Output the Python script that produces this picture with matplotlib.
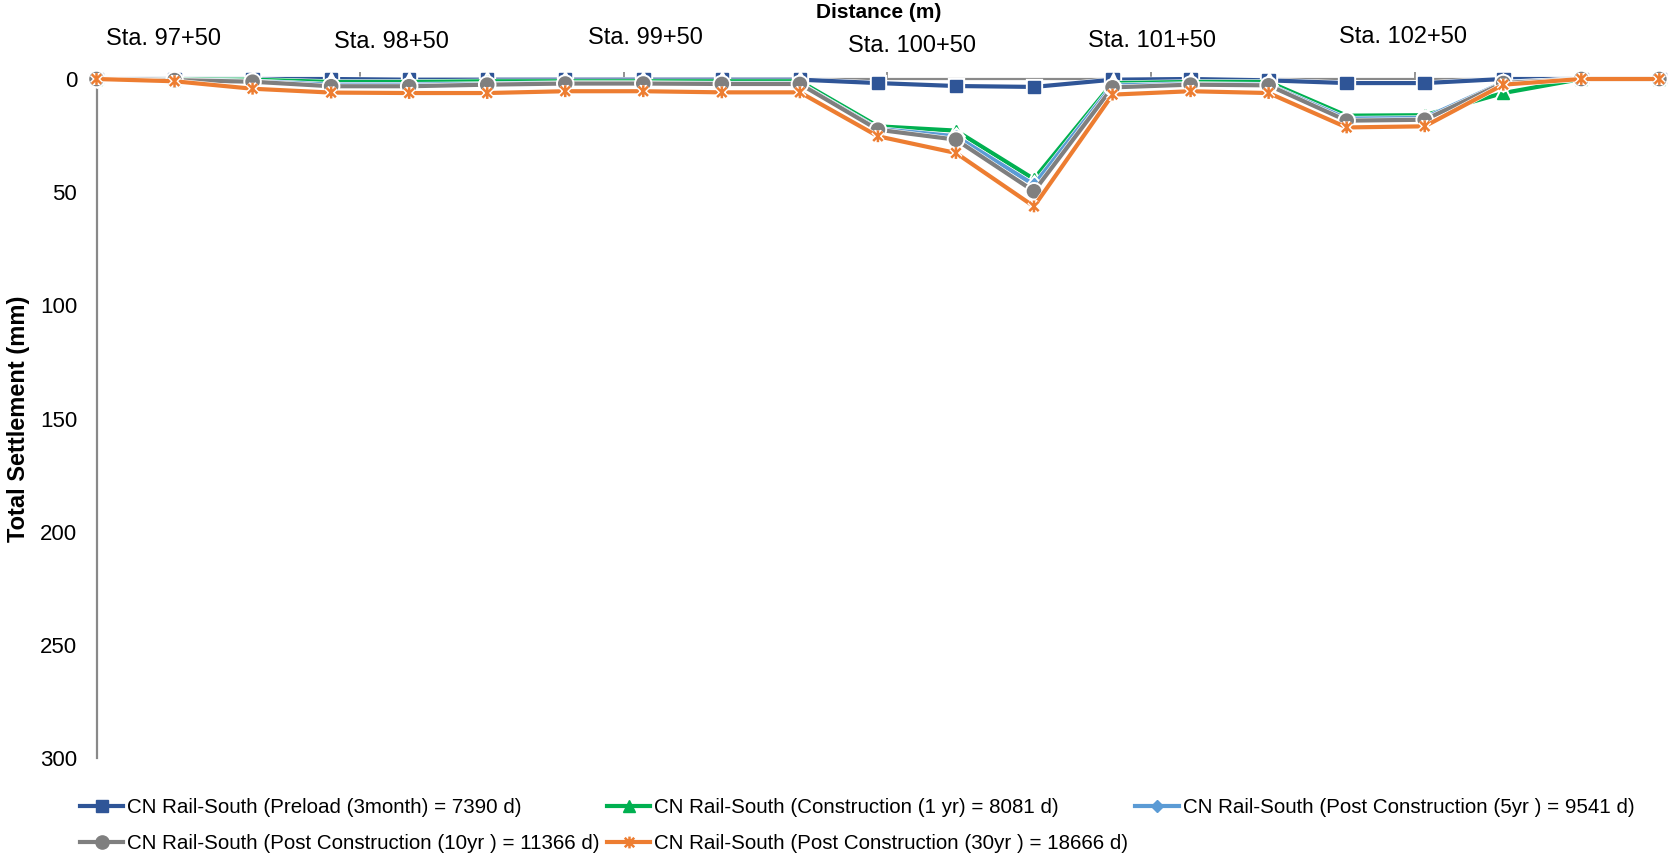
import matplotlib
matplotlib.use("Agg")
import matplotlib.pyplot as plt
from matplotlib import font_manager
from matplotlib.path import Path
import matplotlib.patheffects as pe

# ---- data -------------------------------------------------------------
distance_m = [0.0, 14.8, 29.6, 44.5, 59.3, 74.1, 88.9, 103.7, 118.6, 133.4,
              148.2, 163.0, 177.8, 192.7, 207.5, 222.3, 237.1, 251.9, 266.8,
              281.6, 296.4]

preload_3mo = [0, 0, 0, 0, 0.3, 0.3, 0.3, 0.3, 0.3, 0.3,
               1.8, 3.1, 3.5, 0.3, 0, 0.6, 1.8, 1.8, 0, 0, 0]
construction_1yr = [0, 0.3, 0.3, 1.3, 1.3, 1.0, 1.0, 1.0, 1.0, 1.0,
                    20.9, 22.8, 44.2, 1.8, 1.3, 1.3, 16.2, 16.0, 6.2, 0, 0]
post_5yr = [0, 0.5, 1.0, 2.5, 2.5, 2.2, 1.8, 1.8, 2.0, 2.0,
            22.0, 25.3, 46.7, 2.8, 2.2, 2.5, 17.5, 17.2, 1.5, 0, 0]
post_10yr = [0, 0.5, 1.2, 3.2, 3.2, 2.5, 2.0, 2.0, 2.2, 2.2,
             22.4, 26.8, 49.6, 3.7, 2.5, 2.8, 18.4, 18.0, 1.8, 0, 0]
post_30yr = [0, 1.0, 4.3, 6.0, 6.2, 6.2, 5.4, 5.4, 5.9, 5.9,
             25.3, 32.7, 56.3, 6.9, 5.4, 6.2, 21.4, 20.9, 2.5, 0, 0]

series_labels = [
    "CN Rail-South (Preload (3month) = 7390 d)",
    "CN Rail-South (Construction (1 yr) = 8081 d)",
    "CN Rail-South (Post Construction (5yr ) = 9541 d)",
    "CN Rail-South (Post Construction (10yr ) = 11366 d)",
    "CN Rail-South (Post Construction (30yr ) = 18666 d)",
]
station_labels = ["Sta. 97+50", "Sta. 98+50", "Sta. 99+50",
                  "Sta. 100+50", "Sta. 101+50", "Sta. 102+50"]
y_ticks = [0, 50, 100, 150, 200, 250, 300]
x_ticks = [0, 50, 100, 150, 200, 250]

# ---- fonts --------------------------------------------------------------
available = {f.name for f in font_manager.fontManager.ttflist}
sans = "Liberation Sans" if "Liberation Sans" in available else "DejaVu Sans"
plt.rcParams["font.family"] = [sans, "DejaVu Sans"]

# ---- figure --------------------------------------------------------------
W, H = 1670, 859
fig = plt.figure(figsize=(W / 100, H / 100), dpi=100)

def fx(px):
    return px / W

def fy(py):
    return 1 - py / H

ax_left, ax_right, ax_top, ax_bottom = 96.5, 1662.5, 79, 758
ax = fig.add_axes([fx(ax_left), fy(ax_bottom),
                   (ax_right - ax_left) / W, (ax_bottom - ax_top) / H])

# Excel-style star marker: an X crossed by a vertical bar
star = Path([(-1, -1), (1, 1), (-1, 1), (1, -1), (0, -1.25), (0, 1.25)],
            [Path.MOVETO, Path.LINETO, Path.MOVETO, Path.LINETO,
             Path.MOVETO, Path.LINETO])

styles = [
    dict(color="#2F5597", marker="s", ms=9),
    dict(color="#00B050", marker="^", ms=8.5),
    dict(color="#5B9BD5", marker="D", ms=6.5),
    dict(color="#7F7F7F", marker="o", ms=9.5),
    dict(color="#ED7D31", marker=star, ms=8.5, mew=1.8),
]
values = [preload_3mo, construction_1yr, post_5yr, post_10yr, post_30yr]

handles = []
for i, (vals, st, lab) in enumerate(zip(values, styles, series_labels)):
    line, = ax.plot(distance_m, vals, color=st["color"], lw=3.0,
                    marker=st["marker"], ms=st["ms"],
                    mfc=st["color"], mec=st["color"], mew=st.get("mew", 1.0),
                    label=lab, zorder=3 + i, clip_on=False,
                    path_effects=[pe.Stroke(linewidth=3.8, foreground="white"),
                                  pe.Normal()])
    handles.append(line)

ax.set_xlim(0, 297)
ax.set_ylim(300, 0)

ax.set_yticks(y_ticks)
ax.set_yticklabels([str(v) for v in y_ticks], fontsize=16)
ax.tick_params(axis="y", length=0, pad=14)

ax.xaxis.set_ticks_position("top")
ax.set_xticks(x_ticks)
ax.set_xticklabels([""] * len(x_ticks))
ax.tick_params(axis="x", direction="out", length=5, width=1.3, color="#898989")

for side in ("bottom", "right"):
    ax.spines[side].set_visible(False)
for side in ("top", "left"):
    ax.spines[side].set_color("#898989")
    ax.spines[side].set_linewidth(1.6)

# Axis titles
fig.text(fx(879), fy(13), "Distance (m)", ha="center", va="center",
         fontsize=15, fontweight="bold")
fig.text(fx(19), fy(418.5), "Total Settlement (mm)", ha="center", va="center",
         rotation=90, fontsize=17, fontweight="bold")

# Station markers along the top
station_pos = [(163, 39), (391, 42), (645, 38), (912, 46), (1152, 41), (1403, 37)]
for text, (px, py) in zip(station_labels, station_pos):
    fig.text(fx(px), fy(py), text, ha="center", va="center", fontsize=17)

# Legend laid out row by row: 3 entries, then 2
order = [0, 3, 1, 4, 2]
leg = fig.legend([handles[k] for k in order], [series_labels[k] for k in order],
                 ncol=3, loc="upper left", bbox_to_anchor=(fx(80), fy(798)),
                 frameon=False, borderpad=0, borderaxespad=0,
                 handlelength=2.1, handletextpad=0.2, columnspacing=0.35,
                 labelspacing=0.85,
                 prop=font_manager.FontProperties(size=14.8))
for h in leg.legend_handles:
    h.set_path_effects([])

fig.savefig("out.png", dpi=100)
